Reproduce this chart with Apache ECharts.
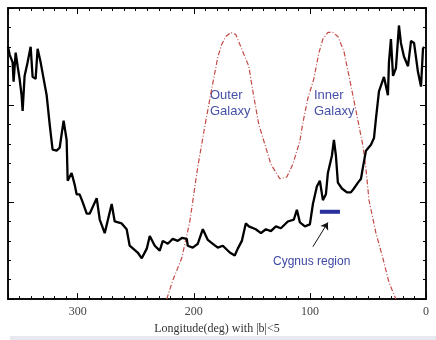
<!DOCTYPE html>
<html>
<head>
<meta charset="utf-8">
<script src="https://cdn.jsdelivr.net/npm/echarts@6/dist/echarts.min.js"></script>
<style>
  html, body { margin: 0; padding: 0; background: #fff; }
  #chart { width: 436px; height: 340px; }
</style>
</head>
<body>
<div id="chart"></div>
<script>
  // longitude (deg) and intensity (arbitrary units, 0..15) of the black profile
  const blackLon = [360, 358.6, 356, 355.2, 353.4, 351.7, 350, 348.3, 347.4, 345.7, 343.1, 340.5, 338.8, 336.2, 334.5,
    331.9, 329.3, 326.7, 324.1, 321.6, 318.1, 315.5, 312.1, 309.5, 308.6, 305.2, 302.6, 300.9, 298.3, 295.7,
    292.2, 289.7, 283.6, 281, 276.7, 270.7, 268.1, 262.1, 257.8, 255.2, 248.3, 244.8, 240.5, 237.9, 233.6,
    229.3, 226.7, 222.4, 218.1, 213.8, 210.3, 206, 205.2, 200.9, 196.6, 192.2, 187.9, 183.6, 179.3, 175,
    169, 164.7, 162.1, 158.6, 155.2, 152.6, 146.6, 142.2, 137.9, 133.6, 129.3, 125, 119, 113.8, 111.2,
    108.6, 104.3, 100, 97.4, 94, 91.4, 88.8, 86.2, 84.5, 81, 79.3, 77.6, 75.9, 72.4, 68.1,
    64.7, 62.1, 58.6, 56, 54.3, 51.7, 47.4, 44.8, 43.1, 40.5, 36.2, 32.8, 31.9, 30.2, 28.4,
    25.9, 23.3, 21.6, 19, 15.5, 12.9, 10.3, 6.9, 4.3, 2.6, 1.7];
  const blackVal = [13.0, 12.6, 12.2, 11.2, 12.7, 12.0, 11.35, 10.5, 9.7, 11.5, 12.2, 13.0, 11.45, 11.35, 12.9,
    12.2, 11.35, 10.5, 9.0, 7.7, 7.65, 7.8, 9.2, 8.2, 6.1, 6.5, 5.9, 5.4, 5.4, 5.0,
    4.4, 4.4, 5.2, 4.1, 3.4, 4.9, 4.0, 3.9, 3.6, 2.75, 2.4, 2.1, 2.6, 3.25, 2.75,
    2.5, 3.0, 2.85, 3.1, 3.0, 3.15, 3.1, 2.75, 2.65, 2.85, 3.6, 3.05, 2.85, 2.65, 2.75,
    2.4, 2.25, 2.6, 3.0, 3.9, 3.75, 3.6, 3.4, 3.6, 3.5, 3.75, 3.65, 4.0, 4.1, 4.6,
    3.95, 3.75, 3.85, 4.9, 5.8, 6.1, 5.1, 5.4, 6.5, 7.4, 8.2, 7.4, 6.0, 5.7, 5.5,
    5.5, 5.7, 6.0, 6.2, 6.8, 7.65, 7.95, 8.3, 9.3, 10.7, 11.45, 10.5, 12.2, 13.4, 11.5,
    11.9, 14.1, 13.2, 12.5, 12.0, 13.3, 13.2, 11.7, 10.95, 12.9, 13.0];

  // red dash-dot exposure curve
  const redLon = [223.3, 218.1, 210.3, 203.4, 196.6, 190.5, 184.5, 179.3, 175.9, 172.4, 168.1, 163.8, 156.9, 152.6,
    149.1, 144, 137.9, 133.6, 125.9, 119.8, 114.7, 108.6, 106, 101.7, 96.6, 92.2, 88.8, 84.5, 80.2, 75.9,
    70.7, 65.5, 60.3, 54.3, 51.7, 49.1, 43.1, 37.1, 31.9, 25.9];
  const redVal = [0, 0.96, 2.13, 4.0, 6.8, 8.9, 10.85, 12.47, 13.13, 13.53, 13.74, 13.63, 12.62, 12.0,
    10.7, 9.0, 7.8, 6.95, 6.2, 6.3, 6.95, 8.15, 9.1, 10.35, 11.35, 12.7, 13.4, 13.74, 13.74, 13.53,
    12.77, 11.25, 9.7, 7.9, 6.7, 5.1, 3.4, 2.1, 0.86, 0];

  // Cygnus region bar and its arrow
  const cygnusLon = [91.4, 74.1];
  const cygnusVal = [4.5, 4.5];
  const arrowLon = [97.4, 84.5];
  const arrowVal = [2.7, 3.95];

  const xTickLabels = [0, 100, 200, 300];

  const zip = (a, b) => a.map((v, i) => [v, b[i]]);

  function xAx(position, interval, len, labels) {
    return {
      type: 'value', position: position, min: 0, max: 360, inverse: true, interval: interval,
      axisLine: { show: true, onZero: false, lineStyle: { color: '#000', width: 1.5 } },
      axisTick: { show: true, inside: true, length: len, lineStyle: { color: '#000', width: 1 } },
      axisLabel: labels ? {
        show: true, margin: 7, color: '#444', fontFamily: 'Liberation Serif', fontSize: 12,
        formatter: v => (xTickLabels.indexOf(v) >= 0 ? String(v) : '')
      } : { show: false },
      splitLine: { show: false },
      name: labels ? 'Longitude(deg) with |b|<5' : '',
      nameLocation: 'middle', nameGap: 19,
      nameTextStyle: { color: '#333', fontFamily: 'Liberation Serif', fontSize: 12 }
    };
  }
  function yAx(position, interval, len) {
    return {
      type: 'value', position: position, min: 0, max: 15, interval: interval,
      axisLine: { show: true, onZero: false, lineStyle: { color: '#000', width: 1.5 } },
      axisTick: { show: true, inside: true, length: len, lineStyle: { color: '#000', width: 1 } },
      axisLabel: { show: false },
      splitLine: { show: false }
    };
  }

  const chart = echarts.init(document.getElementById('chart'));
  chart.setOption({
    animation: false,
    backgroundColor: '#fff',
    grid: { left: 8, right: 10, top: 8, bottom: 36 },
    xAxis: [xAx('bottom', 10, 3, false), xAx('bottom', 100, 6, true), xAx('top', 10, 3, false), xAx('top', 100, 6, false)],
    yAxis: [yAx('left', 1, 3), yAx('left', 5, 6), yAx('right', 1, 3), yAx('right', 5, 6)],
    graphic: [
      { type: 'rect', shape: { x: 10, y: 336, width: 426, height: 4 }, style: { fill: '#e7e9f0' } },
      { type: 'text', left: 210, top: 87, style: { text: 'Outer\nGalaxy', fill: '#4650a6', font: '13px "Liberation Sans"', lineHeight: 16 } },
      { type: 'text', left: 314, top: 87, style: { text: 'Inner\nGalaxy', fill: '#4650a6', font: '13px "Liberation Sans"', lineHeight: 16 } },
      { type: 'text', left: 273, top: 256, style: { text: 'Cygnus region', fill: '#3d47a3', font: '12px "Liberation Sans"' } }
    ],
    series: [
      {
        type: 'line', xAxisIndex: 0, yAxisIndex: 0, showSymbol: false, z: 3,
        lineStyle: { color: '#c24a45', width: 1.2, type: [5, 2, 1, 2] },
        data: zip(redLon, redVal)
      },
      {
        type: 'line', xAxisIndex: 0, yAxisIndex: 0, showSymbol: false, z: 4,
        lineStyle: { color: '#000', width: 2.3 },
        data: zip(blackLon, blackVal)
      },
      {
        type: 'line', xAxisIndex: 0, yAxisIndex: 0, showSymbol: false, z: 5,
        lineStyle: { color: '#2a309c', width: 4 },
        data: zip(cygnusLon, cygnusVal),
        markLine: {
          silent: true, symbol: ['none', 'arrow'], symbolSize: 7,
          label: { show: false },
          lineStyle: { color: '#111', width: 1, type: 'solid' },
          data: [[{ coord: [arrowLon[0], arrowVal[0]] }, { coord: [arrowLon[1], arrowVal[1]] }]]
        }
      }
    ]
  });
</script>
</body>
</html>
